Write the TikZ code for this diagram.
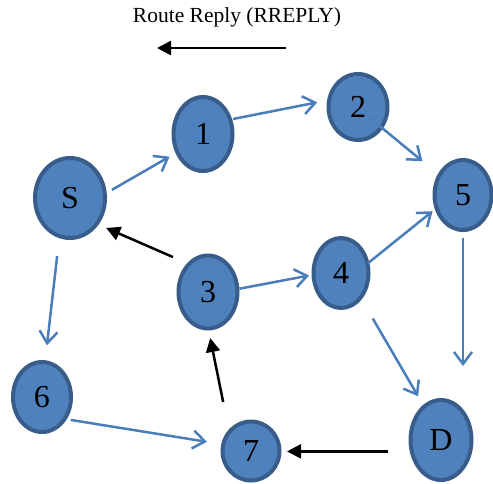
\documentclass[tikz,border=0pt]{standalone}
\usepackage{fontspec}
\setmainfont{Liberation Serif}
\usetikzlibrary{shapes.geometric,arrows.meta}
\definecolor{nodefill}{HTML}{4F81BD}
\definecolor{nodeline}{HTML}{385D8A}
\definecolor{edgeblue}{RGB}{74,126,187}
\tikzset{
  netnode/.style={ellipse, draw=nodeline, fill=nodefill, line width=4pt, inner sep=0pt,
    font=\fontsize{32}{32}\selectfont},
  blueedge/.style={draw=edgeblue, line width=2.5pt, -{Straight Barb[length=12pt,width=18pt,line width=2.5pt]}},
  replyedge/.style={draw=black, line width=2.5pt, -{Triangle[length=14pt,width=14pt]}}
}
\begin{document}
\begin{tikzpicture}[x=1pt,y=-1pt]
\useasboundingbox (0,0) rectangle (493,483);
% title
\node[font=\fontsize{21.5}{21.5}\selectfont] (title) at (237,17) {Route Reply (RREPLY)};
\coordinate (legS) at (286,48);
\coordinate (legE) at (157,48);
\draw[replyedge] (legS) -- (legE);
% nodes
\node[netnode, minimum width=70pt, minimum height=80pt] (S) at (70,198) {S};
\node[netnode, minimum width=59pt, minimum height=74pt] (n1) at (203,134) {1};
\node[netnode, minimum width=59pt, minimum height=66pt] (n2) at (358,107) {2};
\node[netnode, minimum width=57pt, minimum height=70pt] (n5) at (463,195) {5};
\node[netnode, minimum width=59pt, minimum height=73pt] (n3) at (208,292) {3};
\node[netnode, minimum width=55pt, minimum height=70pt] (n4) at (341,273) {4};
\node[netnode, minimum width=58pt, minimum height=70pt] (n6) at (42,397) {6};
\node[netnode, minimum width=57pt, minimum height=59pt] (n7) at (251,451) {\raisebox{-4pt}{7}};
\node[netnode, minimum width=61pt, minimum height=80pt] (D) at (441,440) {D};
% blue (request) edges
\draw[blueedge, shorten <=6pt, shorten >=7pt] (S.8) -- (n1.215);
\draw[blueedge, shorten <=1pt, shorten >=10pt] (n1.27) -- (n2.168);
\draw[blueedge, shorten <=-22pt, shorten >=20pt] (n2.-41) -- (n5.140);
\draw[blueedge, shorten <=-2pt, shorten >=3pt] (n4.21) -- (n5.207);
\draw[blueedge, shorten <=0pt, shorten >=2.5pt] (n3.6) -- (n4.184);
\draw[blueedge, shorten <=22pt, shorten >=10pt] (n4.-52) -- (D.117);
\draw[blueedge, shorten <=6pt, shorten >=32pt] (n5.-90) -- (D.90 -| n5.south);
\draw[blueedge, shorten <=18pt, shorten >=15pt] (S.255) -- (n6.85);
\draw[blueedge, shorten <=4pt, shorten >=14.5pt] (n6.-42) -- (n7.167);
% black (reply) edges
\draw[replyedge, shorten <=15.4pt, shorten >=8.2pt] (n3.126) -- (S.-43);
\draw[replyedge, shorten <=28pt, shorten >=7.7pt] (n7.136) -- (n3.-89);
\draw[replyedge, shorten <=21.5pt, shorten >=5.5pt] (D.200) -- (D.200 -| n7.east);
\end{tikzpicture}
\end{document}
